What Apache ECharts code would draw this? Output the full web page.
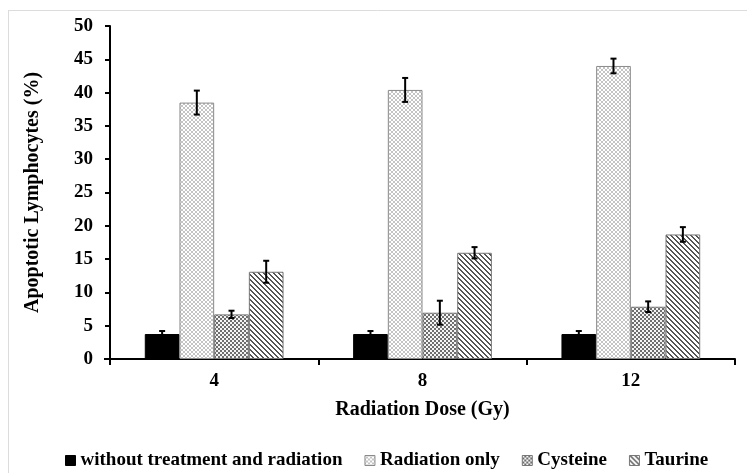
<!DOCTYPE html>
<html><head><meta charset="utf-8">
<script src="https://cdn.jsdelivr.net/npm/echarts@6/dist/echarts.min.js"></script>
<style>html,body{margin:0;padding:0;background:#fff}#c{width:747px;height:473px}</style>
</head><body><div id="c"></div>
<script>
const categories = ['4', '8', '12'];
const seriesNames = ['without treatment and radiation', 'Radiation only', 'Cysteine', 'Taurine'];
const withoutTreatment = [3.75, 3.75, 3.75];
const radiationOnly = [38.5, 40.4, 44.0];
const cysteine = [6.7, 6.95, 7.85];
const taurine = [13.1, 15.95, 18.7];
const withoutTreatmentErr = [0.45, 0.45, 0.45];
const radiationOnlyErr = [1.8, 1.8, 1.1];
const cysteineErr = [0.55, 1.8, 0.8];
const taurineErr = [1.65, 0.85, 1.1];
const yTicks = [0, 5, 10, 15, 20, 25, 30, 35, 40, 45, 50];

const values = [withoutTreatment, radiationOnly, cysteine, taurine];
const errors = [withoutTreatmentErr, radiationOnlyErr, cysteineErr, taurineErr];

function tile(n, draw) {
  const c = document.createElement('canvas');
  c.width = n; c.height = n;
  const g = c.getContext('2d');
  g.fillStyle = '#fff'; g.fillRect(0, 0, n, n);
  draw(g, n);
  return c;
}
const patRadiation = tile(4, (g, n) => {
  g.fillStyle = '#c4c4c4';
  for (let i = 0; i < n; i++) { g.fillRect(i, i, 1, 1); g.fillRect(n - 1 - i, i, 1, 1); }
});
const patCysteine = tile(4, (g, n) => {
  g.fillStyle = '#6e6e6e';
  g.fillRect(0, 0, 4, 4);
  g.fillStyle = '#f4f4f4';
  g.fillRect(0, 0, 2, 2); g.fillRect(2, 2, 2, 2);
});
const patTaurine = tile(5, (g, n) => {
  g.fillStyle = '#555';
  for (let i = 0; i < n; i++) { g.fillRect(i, i, 1, 1); g.fillRect((i + 1) % n, i, 1, 1); }
});
const fills = [
  '#000',
  { image: patRadiation, repeat: 'repeat' },
  { image: patCysteine, repeat: 'repeat' },
  { image: patTaurine, repeat: 'repeat' }
];
const borders = ['#000', '#8a8a8a', '#777', '#777'];

const FONT = '"Liberation Serif", "Times New Roman", serif';
const gapFrac = 0.334;

const series = [];
seriesNames.forEach((name, i) => {
  series.push({
    name: name, type: 'bar', data: values[i],
    barGap: '0%', barCategoryGap: (gapFrac * 100) + '%',
    itemStyle: { color: fills[i], borderColor: borders[i], borderWidth: 1 },
    emphasis: { disabled: true }
  });
});
seriesNames.forEach((name, i) => {
  series.push({
    type: 'custom', silent: true, z: 5,
    data: categories.map((c, k) => [k, values[i][k], errors[i][k]]),
    renderItem: function (params, api) {
      const k = api.value(0), v = api.value(1), e = api.value(2);
      const catW = api.size([1, 0])[0];
      const barW = catW * (1 - gapFrac) / 4;
      const off = (i - 1.5) * barW;
      const top = api.coord([k, v + e]);
      const bot = api.coord([k, v - e]);
      const x = top[0] + off;
      const cap = 3;
      const st = { stroke: '#000', lineWidth: 2 };
      return { type: 'group', children: [
        { type: 'line', shape: { x1: x, y1: top[1], x2: x, y2: bot[1] }, style: st },
        { type: 'line', shape: { x1: x - cap, y1: top[1], x2: x + cap, y2: top[1] }, style: st },
        { type: 'line', shape: { x1: x - cap, y1: bot[1], x2: x + cap, y2: bot[1] }, style: st }
      ]};
    }
  });
});

const chart = echarts.init(document.getElementById('c'), null, { renderer: 'canvas' });
chart.setOption({
  animation: false,
  backgroundColor: '#fff',
  textStyle: { fontFamily: FONT },
  grid: { left: 110, right: 12, top: 26, bottom: 114, containLabel: false },
  xAxis: {
    type: 'category', data: categories,
    name: 'Radiation Dose (Gy)', nameLocation: 'middle', nameGap: 41,
    nameTextStyle: { fontFamily: FONT, fontWeight: 'bold', fontSize: 20, color: '#000', verticalAlign: 'top' },
    axisLine: { lineStyle: { color: '#000', width: 2 } },
    axisTick: { show: true, inside: false, length: 6, lineStyle: { color: '#000', width: 2 } },
    axisLabel: { fontFamily: FONT, fontWeight: 'bold', fontSize: 19, color: '#000', margin: 13 },
    splitLine: { show: false }
  },
  yAxis: {
    type: 'value', min: yTicks[0], max: yTicks[yTicks.length - 1], interval: 5,
    name: 'Apoptotic Lymphocytes (%)', nameLocation: 'middle', nameGap: 67, nameRotate: 90,
    nameTextStyle: { fontFamily: FONT, fontWeight: 'bold', fontSize: 20, color: '#000' },
    axisLine: { show: true, lineStyle: { color: '#000', width: 2 } },
    axisTick: { show: true, inside: false, length: 5, lineStyle: { color: '#000', width: 2 } },
    axisLabel: { fontFamily: FONT, fontWeight: 'bold', fontSize: 19, color: '#000', margin: 17 },
    splitLine: { show: false }
  },
  legend: {
    data: seriesNames, left: 60, top: 446, icon: 'rect', itemWidth: 10, itemHeight: 10,
    itemGap: 22, itemStyle: { borderWidth: 1 },
    textStyle: { fontFamily: FONT, fontWeight: 'bold', fontSize: 19, color: '#000' }
  },
  graphic: [
    { type: 'line', shape: { x1: 8, y1: 10.5, x2: 747, y2: 10.5 }, style: { stroke: '#dcdcdc', lineWidth: 1 }, silent: true },
    { type: 'line', shape: { x1: 8.5, y1: 10, x2: 8.5, y2: 473 }, style: { stroke: '#dcdcdc', lineWidth: 1 }, silent: true },
    { type: 'line', shape: { x1: 104, y1: 359, x2: 110, y2: 359 }, style: { stroke: '#000', lineWidth: 2 }, silent: true }
  ],
  series: series
});
</script></body></html>
